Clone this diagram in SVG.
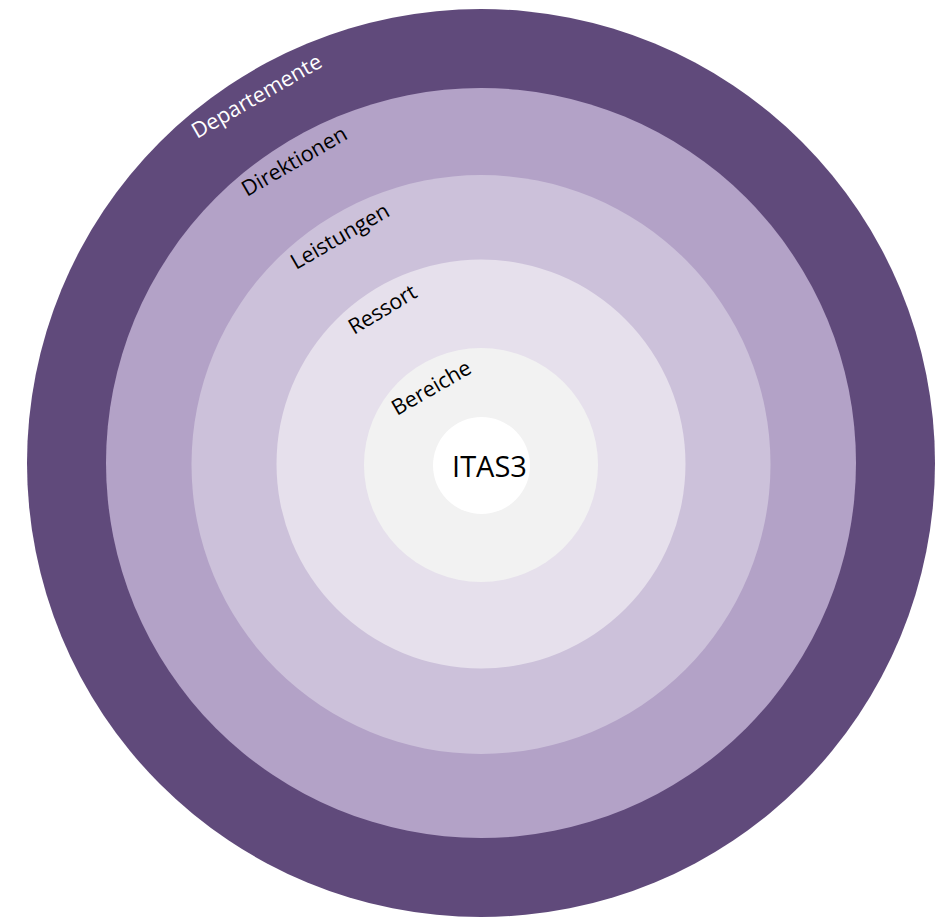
<svg xmlns="http://www.w3.org/2000/svg" width="942" height="918" viewBox="0 0 942 918">
  <style>
    .lbl { font-family: "Open Sans", "Liberation Sans", sans-serif; font-size: 21.5px; fill: #000000; }
    .lbl-w { fill: #FFFFFF; }
    .core { font-family: "Open Sans", "Liberation Sans", sans-serif; font-size: 29px; fill: #000000; text-anchor: middle; }
  </style>
  <rect width="942" height="918" fill="#FFFFFF"/>
  <g id="departemente">
    <circle cx="481" cy="463" r="454" fill="#604A7B"/>
    <text class="lbl lbl-w" transform="translate(197,139) rotate(-30)">Departemente</text>
  </g>
  <g id="direktionen">
    <circle cx="481" cy="463" r="375" fill="#B3A2C7"/>
    <text class="lbl" transform="translate(247,197) rotate(-30)">Direktionen</text>
  </g>
  <g id="leistungen">
    <circle cx="481" cy="464.5" r="289.5" fill="#CCC1DA"/>
    <text class="lbl" transform="translate(296,270) rotate(-30)">Leistungen</text>
  </g>
  <g id="ressort">
    <circle cx="481" cy="464" r="204.5" fill="#E6E0EC"/>
    <text class="lbl" transform="translate(354,335) rotate(-31)">Ressort</text>
  </g>
  <g id="bereiche">
    <circle cx="481" cy="465" r="117" fill="#F2F2F2"/>
    <text class="lbl" transform="translate(397,416) rotate(-30)">Bereiche</text>
  </g>
  <g id="itas3">
    <circle cx="481.5" cy="465.5" r="48.5" fill="#FFFFFF"/>
    <text class="core" x="489.5" y="477">ITAS3</text>
  </g>
  <g id="connectors"/>
</svg>
